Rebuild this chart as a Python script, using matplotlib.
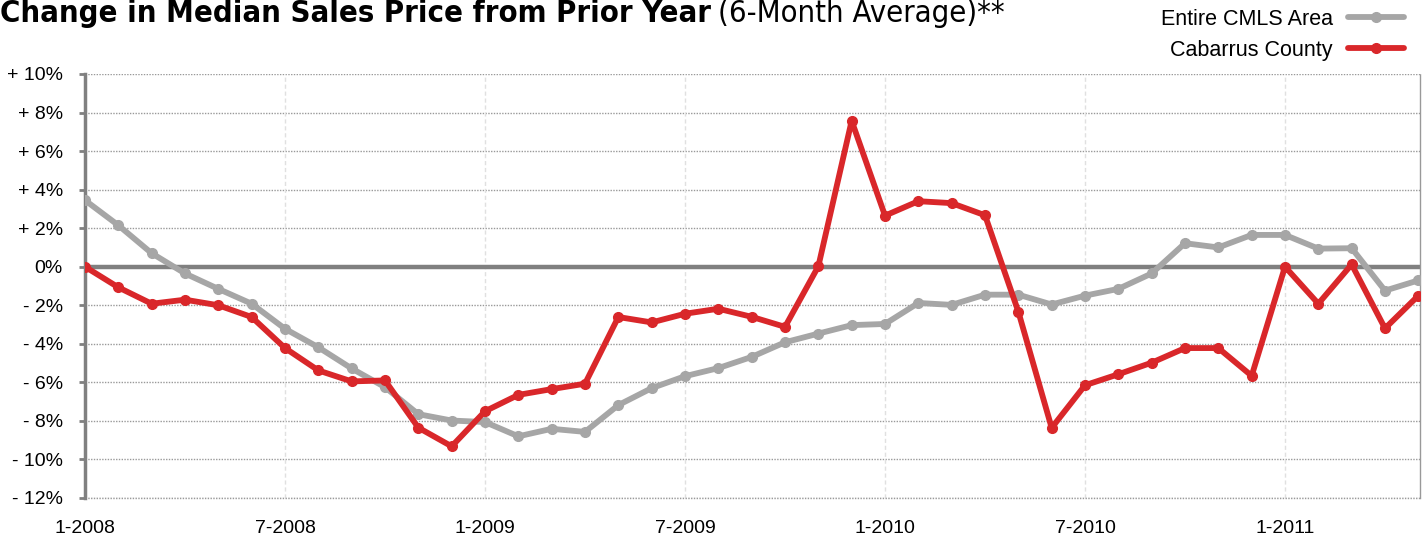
import matplotlib
matplotlib.use("Agg")
import matplotlib.pyplot as plt
from matplotlib import font_manager
from matplotlib.font_manager import FontProperties

# data: monthly values Jan 2008 .. May 2011 (% change from prior year)
months = list(range(41))
cmls_area = [3.45, 2.15, 0.7, -0.35, -1.15, -1.92, -3.22, -4.18, -5.28, -6.25,
             -7.65, -7.98, -8.06, -8.8, -8.41, -8.57, -7.18, -6.3, -5.68, -5.26,
             -4.68, -3.92, -3.47, -3.03, -2.97, -1.88, -1.98, -1.45, -1.45, -1.96,
             -1.5, -1.15, -0.35, 1.22, 1.0, 1.65, 1.65, 0.94, 0.96, -1.24,
             -0.71]
cabarrus = [0.0, -1.07, -1.92, -1.71, -2.0, -2.61, -4.22, -5.38, -5.95, -5.9,
            -8.35, -9.32, -7.5, -6.65, -6.35, -6.07, -2.61, -2.89, -2.44, -2.18,
            -2.6, -3.12, 0.02, 7.57, 2.65, 3.4, 3.3, 2.67, -2.33, -8.36,
            -6.15, -5.58, -4.98, -4.22, -4.22, -5.66, 0.0, -1.92, 0.12, -3.2,
            -1.5]
x_ticks = [0, 6, 12, 18, 24, 30, 36]
x_labels = ["1-2008", "7-2008", "1-2009", "7-2009", "1-2010", "7-2010", "1-2011"]
y_ticks = [10, 8, 6, 4, 2, 0, -2, -4, -6, -8, -10, -12]


def find_narrow(bold):
    # look for any condensed / narrow face installed
    best = None
    for f in font_manager.fontManager.ttflist:
        fn = f.fname.lower()
        if ("narrow" in fn or "condensed" in fn or "cond" in f.name.lower()) \
                and "mono" not in fn and "italic" not in fn and "oblique" not in fn:
            isbold = (f.weight in ("bold", 700) or "bold" in fn) and "semibold" not in fn \
                and "extrabold" not in fn
            if isbold == bold:
                if "liberation" in fn:
                    return f.fname
                if best is None:
                    best = f.fname
    return best


bold_file = find_narrow(True)
reg_file = find_narrow(False)

plt.rcParams["font.family"] = ["Liberation Sans", "DejaVu Sans"]

gray = "#a6a6a6"
red = "#d9272a"
axis_gray = "#808080"

fig = plt.figure(figsize=(14.22, 5.41), dpi=100)
W, H = 1422, 541
ax = fig.add_axes([85 / W, (H - 498) / H, (1420 - 85) / W, (498 - 74) / H])

# grid
for t in y_ticks:
    if t != 0:
        ax.axhline(t, color="#999999", lw=1.0, ls=(0, (1, 1)), zorder=1)
for t in x_ticks[1:]:
    ax.axvline(t, color="#e0e0e0", lw=1.0, ls=(0, (3, 2)), zorder=1)
ax.axhline(0, color=axis_gray, lw=3.2, zorder=2)

ax.plot(months, cmls_area, color=gray, lw=4.2, marker="o", ms=7,
        solid_joinstyle="round", solid_capstyle="round", zorder=3,
        label="Entire CMLS Area")
ax.plot(months, cabarrus, color=red, lw=4.2, marker="o", ms=7,
        solid_joinstyle="round", solid_capstyle="round", zorder=4,
        label="Cabarrus County")

ax.set_xlim(0, 40.05)
ax.set_ylim(-12, 10)

ax.set_yticks(y_ticks)
ax.set_yticklabels([("+ %d%%" % v) if v > 0 else ("0%" if v == 0 else "- %d%%" % -v)
                    for v in y_ticks], fontsize=14)
ax.set_xticks(x_ticks)
ax.set_xticklabels(x_labels, fontsize=14)
ax.tick_params(axis="y", length=4, width=2, color=axis_gray, pad=12)
ax.tick_params(axis="x", length=0, pad=16)

for s in ["top", "bottom"]:
    ax.spines[s].set_visible(False)
ax.spines["left"].set_color(axis_gray)
ax.spines["left"].set_linewidth(2.5)
ax.spines["right"].set_color("#999999")
ax.spines["right"].set_linewidth(1.0)
ax.spines["right"].set_linestyle((0, (1, 1)))
ax.axhline(-12, color="#999999", lw=1.0, ls=(0, (1, 1)), zorder=1, clip_on=False)

leg = ax.legend(loc="upper right", bbox_to_anchor=(1404 / W, 1 - 9 / H),
                bbox_transform=fig.transFigure, frameon=False, markerfirst=False,
                fontsize=15.5, handlelength=2.6, labelspacing=0.45,
                handletextpad=0.7, borderaxespad=0, borderpad=0)


def title_props(path, weight, size):
    if path:
        return FontProperties(fname=path, size=size)
    return FontProperties(family="DejaVu Sans", weight=weight, size=size,
                          stretch="condensed")


# fit whole title to end near x = 1005 px
size = 23
base_y = 1 - 22 / H
t1 = fig.text(0, base_y, "Change in Median Sales Price from Prior Year",
              fontproperties=title_props(bold_file, "bold", size),
              va="baseline", ha="left")
t2 = fig.text(0, base_y, "(6-Month Average)**",
              fontproperties=title_props(reg_file, "normal", size),
              va="baseline", ha="left")
fig.canvas.draw()
total = t1.get_window_extent().width + 7 + t2.get_window_extent().width
size = size * 1005.0 / total
t1.set_fontproperties(title_props(bold_file, "bold", size))
t2.set_fontproperties(title_props(reg_file, "normal", size))
fig.canvas.draw()
bb = t1.get_window_extent()
t2.set_x((bb.x1 + 7) / W)

fig.savefig("out.png", dpi=100)
